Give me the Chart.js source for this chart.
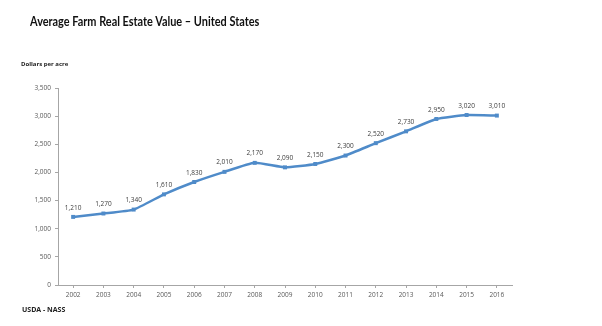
<!DOCTYPE html>
<html>
<head>
<meta charset="utf-8">
<script src="https://cdn.jsdelivr.net/npm/chart.js@4/dist/chart.umd.min.js"></script>
<style>
  html, body { margin: 0; padding: 0; background: #fff; }
  #wrap { position: relative; width: 602px; height: 326px; font-family: "Open Sans", "Liberation Sans", sans-serif; }
  #title { position: absolute; left: 30px; top: 14px; font-family: Lato, sans-serif; font-size: 12.5px; font-weight: bold; color: #111; white-space: nowrap; transform-origin: left top; }
  #unit { position: absolute; left: 21px; top: 60px; font-size: 6px; font-weight: bold; color: #222; }
  #source { position: absolute; left: 22px; top: 305px; font-size: 7px; font-weight: bold; color: #222; }
  canvas { position: absolute; left: 0; top: 0; }
</style>
</head>
<body>
<div id="wrap">
  <canvas id="farmChart" width="602" height="326"></canvas>
  <div id="title">Average Farm Real Estate Value – United States</div>
  <div id="unit">Dollars per acre</div>
  <div id="source">USDA - NASS</div>
</div>
<script>
// Average farm real estate value, dollars per acre
const years = ['2002', '2003', '2004', '2005', '2006', '2007', '2008', '2009',
               '2010', '2011', '2012', '2013', '2014', '2015', '2016'];
const values = [1210, 1270, 1340, 1610, 1830, 2010, 2170, 2090,
                2150, 2300, 2520, 2730, 2950, 3020, 3010];

const lineColor = '#4f8bc9';
const tickColor = '#595959';

// squeeze the heading into a condensed width
const title = document.getElementById('title');
title.style.transform = 'scaleX(' + (229 / title.offsetWidth) + ')';

// Value labels drawn above every point
const pointLabels = {
    id: 'pointLabels',
    afterDatasetsDraw(chart) {
        const ctx = chart.ctx;
        const meta = chart.getDatasetMeta(0);
        ctx.save();
        ctx.font = '6.5px "Open Sans", sans-serif';
        ctx.fillStyle = '#404040';
        ctx.textAlign = 'center';
        ctx.textBaseline = 'bottom';
        meta.data.forEach(function(pt, i) {
            ctx.fillText(values[i].toLocaleString('en-US'), pt.x, pt.y - 6);
        });
        ctx.restore();
    }
};

const ctx = document.getElementById('farmChart').getContext('2d');
const farmChart = new Chart(ctx, {
    type: 'line',
    data: {
        labels: years,
        datasets: [{
            data: values,
            borderColor: lineColor,
            backgroundColor: lineColor,
            borderWidth: 2.5,
            pointStyle: 'rect',
            pointRadius: 2.8,
            pointBorderWidth: 0,
            tension: 0.15,
            fill: false
        }]
    },
    options: {
        responsive: false,
        animation: false,
        layout: {
            padding: { top: 88, right: 90, left: 0, bottom: 0 }
        },
        plugins: {
            legend: { display: false },
            tooltip: { enabled: false }
        },
        scales: {
            x: {
                offset: true,
                afterFit: function(scale) { scale.height = 41; },
                grid: {
                    offset: false,
                    drawOnChartArea: false,
                    drawTicks: true,
                    tickLength: 3,
                    color: '#a6a6a6'
                },
                border: { color: '#a6a6a6', width: 1 },
                ticks: {
                    color: tickColor,
                    font: { size: 6.5, family: '"Open Sans", sans-serif' },
                    padding: 3,
                    maxRotation: 0,
                    autoSkip: false
                }
            },
            y: {
                min: 0,
                max: 3500,
                afterFit: function(scale) { scale.width = 58; },
                grid: {
                    drawOnChartArea: false,
                    drawTicks: true,
                    tickLength: 3,
                    color: '#a6a6a6'
                },
                border: { color: '#a6a6a6', width: 1 },
                ticks: {
                    stepSize: 500,
                    color: tickColor,
                    font: { size: 6.5, family: '"Open Sans", sans-serif' },
                    padding: 4,
                    callback: function(value) {
                        return value.toLocaleString('en-US');
                    }
                }
            }
        }
    },
    plugins: [pointLabels]
});
</script>
</body>
</html>
